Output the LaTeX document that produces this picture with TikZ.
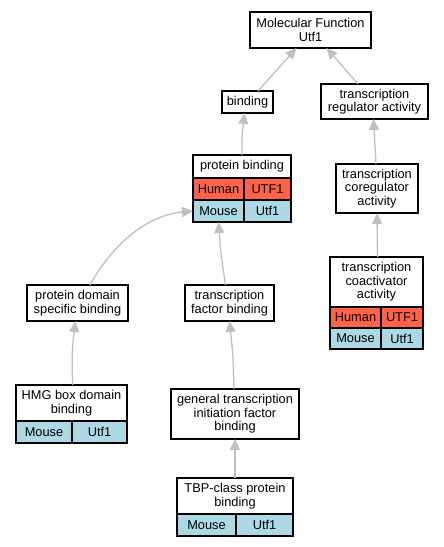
\documentclass[tikz,border=0pt]{standalone}
\usepackage{fontspec}
\setmainfont{Liberation Sans}
\usetikzlibrary{arrows.meta,calc}
\definecolor{human}{HTML}{FF6347}
\definecolor{mouse}{HTML}{ADD8E6}
\definecolor{edgegray}{HTML}{C0C0C0}
\begin{document}
\begin{tikzpicture}[x=1pt,y=-1pt,
  every node/.style={font=\fontsize{12.8}{13.6}\selectfont, inner sep=0pt, outer sep=0pt},
  box/.style={draw=black, line width=1.3pt, fill=white, align=center, rectangle},
  cell/.style={draw=black, line width=1.3pt, rectangle, minimum height=22pt},
  hcell/.style={cell, fill=human},
  mcell/.style={cell, fill=mouse},
  edge/.style={draw=edgegray, line width=1.3pt, -{Triangle[length=11pt,width=10pt]}}
]
\fill[white] (0,0) rectangle (444,547);
\useasboundingbox (0,0) rectangle (444,547);

% Molecular Function
\node[box, minimum width=121pt, minimum height=36pt] (mf) at (310.5,30) {Molecular Function\\Utf1};
\node[box, minimum width=51pt, minimum height=22pt] (bind) at (247.5,102) {binding};
\node[box, minimum width=107pt, minimum height=35pt] (tra) at (374.5,101.5) {transcription\\regulator activity};

% protein binding
\node[box, minimum width=98pt, minimum height=23pt] (pb) at (242,166.5) {protein binding};
\node[hcell, minimum width=51pt] (pbhl) at (218.5,189) {Human};
\node[hcell, minimum width=47pt] (pbhr) at (267.5,189) {UTF1};
\node[mcell, minimum width=51pt] (pbml) at (218.5,211) {Mouse};
\node[mcell, minimum width=47pt] (pbmr) at (267.5,211) {Utf1};

\node[box, minimum width=82pt, minimum height=49pt] (tcr) at (377,188.5) {transcription\\coregulator\\activity};

\node[box, minimum width=101pt, minimum height=36pt] (pdsb) at (77.5,303) {protein domain\\specific binding};
\node[box, minimum width=89pt, minimum height=36pt] (tfb) at (229.5,303) {transcription\\factor binding};

% coactivator
\node[box, minimum width=93pt, minimum height=50pt] (tca) at (376.5,282) {transcription\\coactivator\\activity};
\node[hcell, minimum width=51pt, minimum height=21pt] (tcahl) at (355.5,317.5) {Human};
\node[hcell, minimum width=42pt, minimum height=21pt] (tcahr) at (402,317.5) {UTF1};
\node[mcell, minimum width=51pt, minimum height=21pt] (tcaml) at (355.5,338.5) {Mouse};
\node[mcell, minimum width=42pt, minimum height=21pt] (tcamr) at (402,338.5) {Utf1};

% HMG
\node[box, minimum width=111pt, minimum height=36pt] (hmg) at (71.5,403) {HMG box domain\\binding};
\node[mcell, minimum width=56pt] (hmgml) at (44,432) {Mouse};
\node[mcell, minimum width=55pt] (hmgmr) at (99.5,432) {Utf1};

\node[box, minimum width=128pt, minimum height=50pt] (gtif) at (235,414) {general transcription\\initiation factor\\binding};

% TBP
\node[box, minimum width=116pt, minimum height=36pt] (tbp) at (235,496) {TBP-class protein\\binding};
\node[mcell, minimum width=59pt] (tbpml) at (206.5,525) {Mouse};
\node[mcell, minimum width=57pt] (tbpmr) at (264.5,525) {Utf1};

% edges
\draw[edge] ([xshift=10.5pt]bind.north) -- ([xshift=-14pt]mf.south);
\draw[edge] ([xshift=-16.5pt]tra.north) -- ([xshift=16pt]mf.south);
\draw[edge] (pb.north) .. controls (242,135) .. ([xshift=-3pt]bind.south);
\draw[edge] ([xshift=-1pt]tcr.north) -- ([xshift=-1pt]tra.south);
\draw[edge] ([xshift=1pt]tca.north) -- (tcr.south);
\draw[edge] ([xshift=12.5pt]pdsb.north) .. controls (115,240) and (150,215) .. (pbml.west);
\draw[edge] ([xshift=-4pt]tfb.north) .. controls (221,255) .. (pbml.south);
\draw[edge] ([xshift=1pt]hmg.north) .. controls (72,350) .. ([xshift=-2pt]pdsb.south);
\draw[edge] ([xshift=-1pt]gtif.north) .. controls (233,355) .. (tfb.south);
\draw[edge] (tbp.north) -- (gtif.south);
\end{tikzpicture}
\end{document}
